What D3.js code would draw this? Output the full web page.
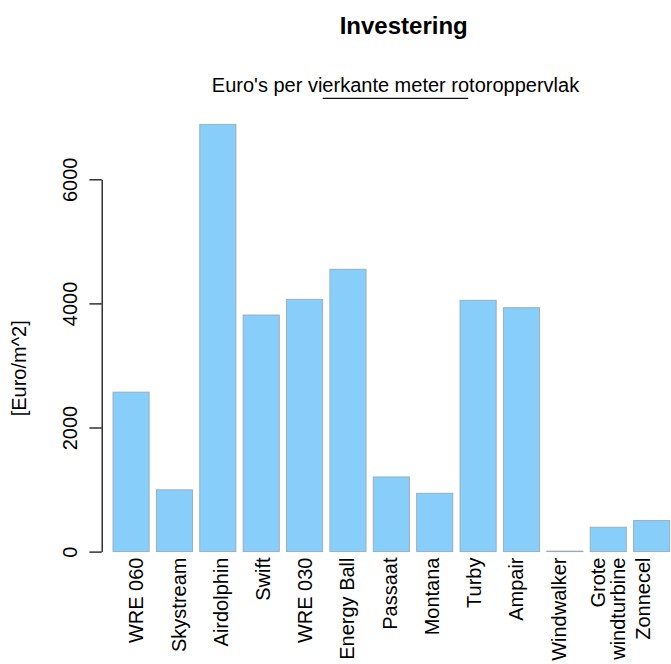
<!DOCTYPE html>
<html>
<head>
<meta charset="utf-8">
<script src="https://cdn.jsdelivr.net/npm/d3@7"></script>
<style>
  html, body { margin: 0; padding: 0; background: #fff; }
  svg { display: block; font-family: "Liberation Sans", Arial, Helvetica, sans-serif; }
</style>
</head>
<body>
<svg id="chart" width="671" height="664"></svg>
<script>
// ---- data ----
const categories = ["WRE 060", "Skystream", "Airdolphin", "Swift", "WRE 030", "Energy Ball",
  "Passaat", "Montana", "Turby", "Ampair", "Windwalker", "Grote\nwindturbine", "Zonnecel"];
const values = [2570, 995, 6885, 3813, 4066, 4550, 1203, 940, 4050, 3931, 8, 393, 500];
const yTicks = [0, 2000, 4000, 6000];
const titleText = "Investering";
const subtitleText = "Euro's per vierkante meter rotoroppervlak";
const yLabelText = "[Euro/m^2]";

// ---- layout ----
const svg = d3.select("#chart");

const x = d3.scaleBand()
  .domain(categories)
  .range([105.77, 676.94])
  .paddingInner(1 / 6)
  .paddingOuter(1 / 6);

const y = d3.scaleLinear()
  .domain([0, 6000])
  .range([551.6, 179.3]);

// label positions (text centre) along the axis
const xLab = d3.scaleLinear()
  .domain([0, categories.length - 1])
  .range([136.1, 642.8]);

// ---- bars ----
svg.append("g")
  .selectAll("rect")
  .data(values)
  .join("rect")
  .attr("x", (d, i) => x(categories[i]))
  .attr("width", x.bandwidth())
  .attr("y", d => y(d))
  .attr("height", d => y(0) - y(d))
  .attr("fill", "#87CEFA")
  .attr("stroke", "#9aaab6")
  .attr("stroke-width", 0.9);

// ---- y axis ----
const yAxis = d3.axisLeft(y)
  .tickValues(yTicks)
  .tickSize(12.3)
  .tickSizeOuter(0)
  .tickFormat(d3.format("d"));

const gy = svg.append("g")
  .attr("transform", "translate(101.7,0)")
  .call(yAxis);
gy.select(".domain").attr("stroke", "#111").attr("stroke-width", 1.3);
gy.selectAll(".tick line").attr("stroke", "#111").attr("stroke-width", 1.3);
gy.selectAll(".tick text")
  .attr("font-size", 20)
  .attr("fill", "#000")
  .attr("text-anchor", "middle")
  .attr("dy", null)
  .attr("x", null)
  .attr("transform", "translate(-25,0) rotate(-90)");

// ---- x labels ----
const gx = svg.append("g");
categories.forEach((c, i) => {
  const lines = c.split("\n");
  const cx = xLab(i);
  lines.forEach((ln, j) => {
    const base = lines.length === 1 ? cx + 7.2 : cx + 4.5 + j * 19.6;
    gx.append("text")
      .attr("transform", `translate(${base},557.5) rotate(-90)`)
      .attr("text-anchor", "end")
      .attr("font-size", 20)
      .attr("fill", "#000")
      .text(ln);
  });
});

// ---- y label ----
svg.append("text")
  .attr("transform", "translate(26.3,368.3) rotate(-90)")
  .attr("text-anchor", "middle")
  .attr("font-size", 20)
  .attr("fill", "#000")
  .text(yLabelText);

// ---- title ----
svg.append("text")
  .attr("x", 403.7)
  .attr("y", 33.5)
  .attr("text-anchor", "middle")
  .attr("font-size", 24)
  .attr("font-weight", "bold")
  .attr("fill", "#000")
  .text(titleText);

// ---- subtitle ----
svg.append("text")
  .attr("x", 395.5)
  .attr("y", 91.6)
  .attr("text-anchor", "middle")
  .attr("font-size", 20)
  .attr("fill", "#000")
  .text(subtitleText);

// underline beneath part of subtitle
svg.append("line")
  .attr("x1", 322.7).attr("x2", 468.3)
  .attr("y1", 98.3).attr("y2", 98.3)
  .attr("stroke", "#111")
  .attr("stroke-width", 1.3);
</script>
</body>
</html>
